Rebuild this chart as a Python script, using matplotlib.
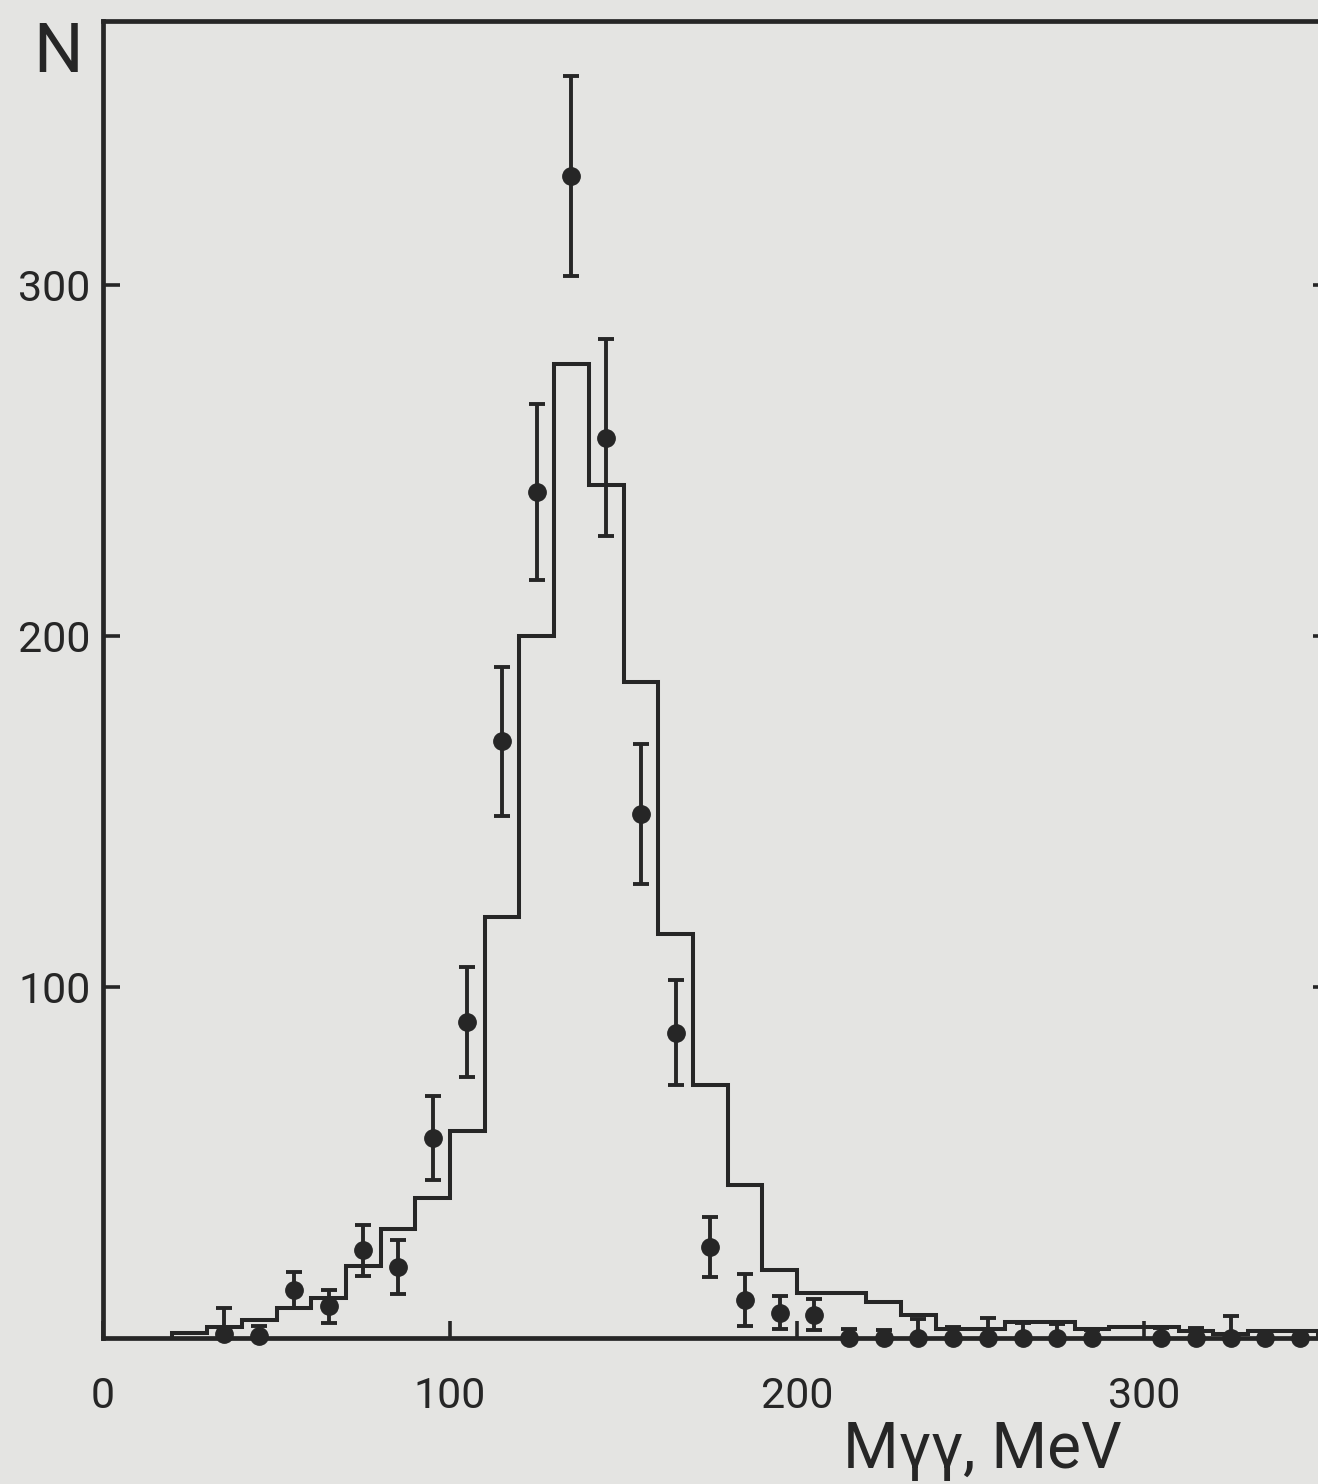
import numpy as np
import matplotlib
matplotlib.use("Agg")
import matplotlib.pyplot as plt

# histogram (simulation), 10 MeV bins from 20 to 350
edges = np.arange(20, 351, 10)
hist_n = [1.5, 3, 5, 8.5, 11.5, 20.5, 31, 40, 59, 120, 200, 277.5, 243, 187,
          115, 72, 43.5, 19.5, 12.8, 12.8, 10.3, 6.5, 2.5, 2.5, 4.5, 4.5,
          2.5, 3, 3, 2, 1, 2, 2]

# measured points
m_gg = [35, 45, 55, 65, 75, 85, 95, 105, 115, 125, 135, 145, 155, 165, 175,
        185, 195, 205, 215, 225, 235, 245, 255, 265, 275, 285, 305, 315, 325,
        335, 345]
n_obs = [1, 0.5, 13.7, 9, 25, 20.3, 57, 90, 170, 241, 331, 256.5, 149.3, 87,
         26, 10.8, 7.2, 6.6, 0, 0, 0, 0, 0, 0, 0, 0, 0, 0, 0, 0, 0]
n_err = [7.5, 3, 5.2, 4.7, 7.3, 7.7, 12, 15.7, 21.3, 25, 28.5, 28, 20, 15,
         8.5, 7.5, 4.7, 4.4, 2.5, 2.3, 5.5, 3, 5.6, 4.4, 4, 2.3, 2.8, 2.8,
         6.3, 2.1, 2.1]

ink = "#262626"
paper = "#e4e4e2"
plt.rcParams["font.family"] = ["Roboto", "DejaVu Sans"]

fig = plt.figure(figsize=(13.18, 14.84), dpi=100, facecolor=paper)
ax = fig.add_axes([103 / 1318, 146 / 1484, 1227 / 1318, 1317 / 1484])
ax.set_facecolor(paper)

ax.stairs(hist_n, edges, baseline=0, color=ink, lw=2.9, zorder=2)

lo = np.minimum(n_err, n_obs)
ax.errorbar(m_gg, n_obs, yerr=[lo, n_err], fmt="o", color=ink, ms=12.5,
            elinewidth=2.8, capsize=5.5, capthick=2.8, zorder=3,
            clip_on=False)

ax.set_xlim(0, 353.6)
ax.set_ylim(0, 375.2)

for s in ax.spines.values():
    s.set_linewidth(3.4)
    s.set_color(ink)

ax.set_xticks([0, 100, 200, 300])
ax.set_yticks([100, 200, 300])
ax.tick_params(axis="both", direction="in", length=12, width=2.6,
               color=ink, labelcolor=ink, labelsize=31)
ax.tick_params(axis="y", right=True, pad=9)
ax.tick_params(axis="x", pad=27)

fig.text(58 / 1318, 1 - 53 / 1484, "N", ha="center", va="center",
         fontsize=50, color=ink)
fig.text(982 / 1318, 16 / 1484, "Mγγ, MeV", ha="center", va="baseline",
         fontsize=46, color=ink)

fig.savefig("out.png", dpi=100, facecolor=paper)
